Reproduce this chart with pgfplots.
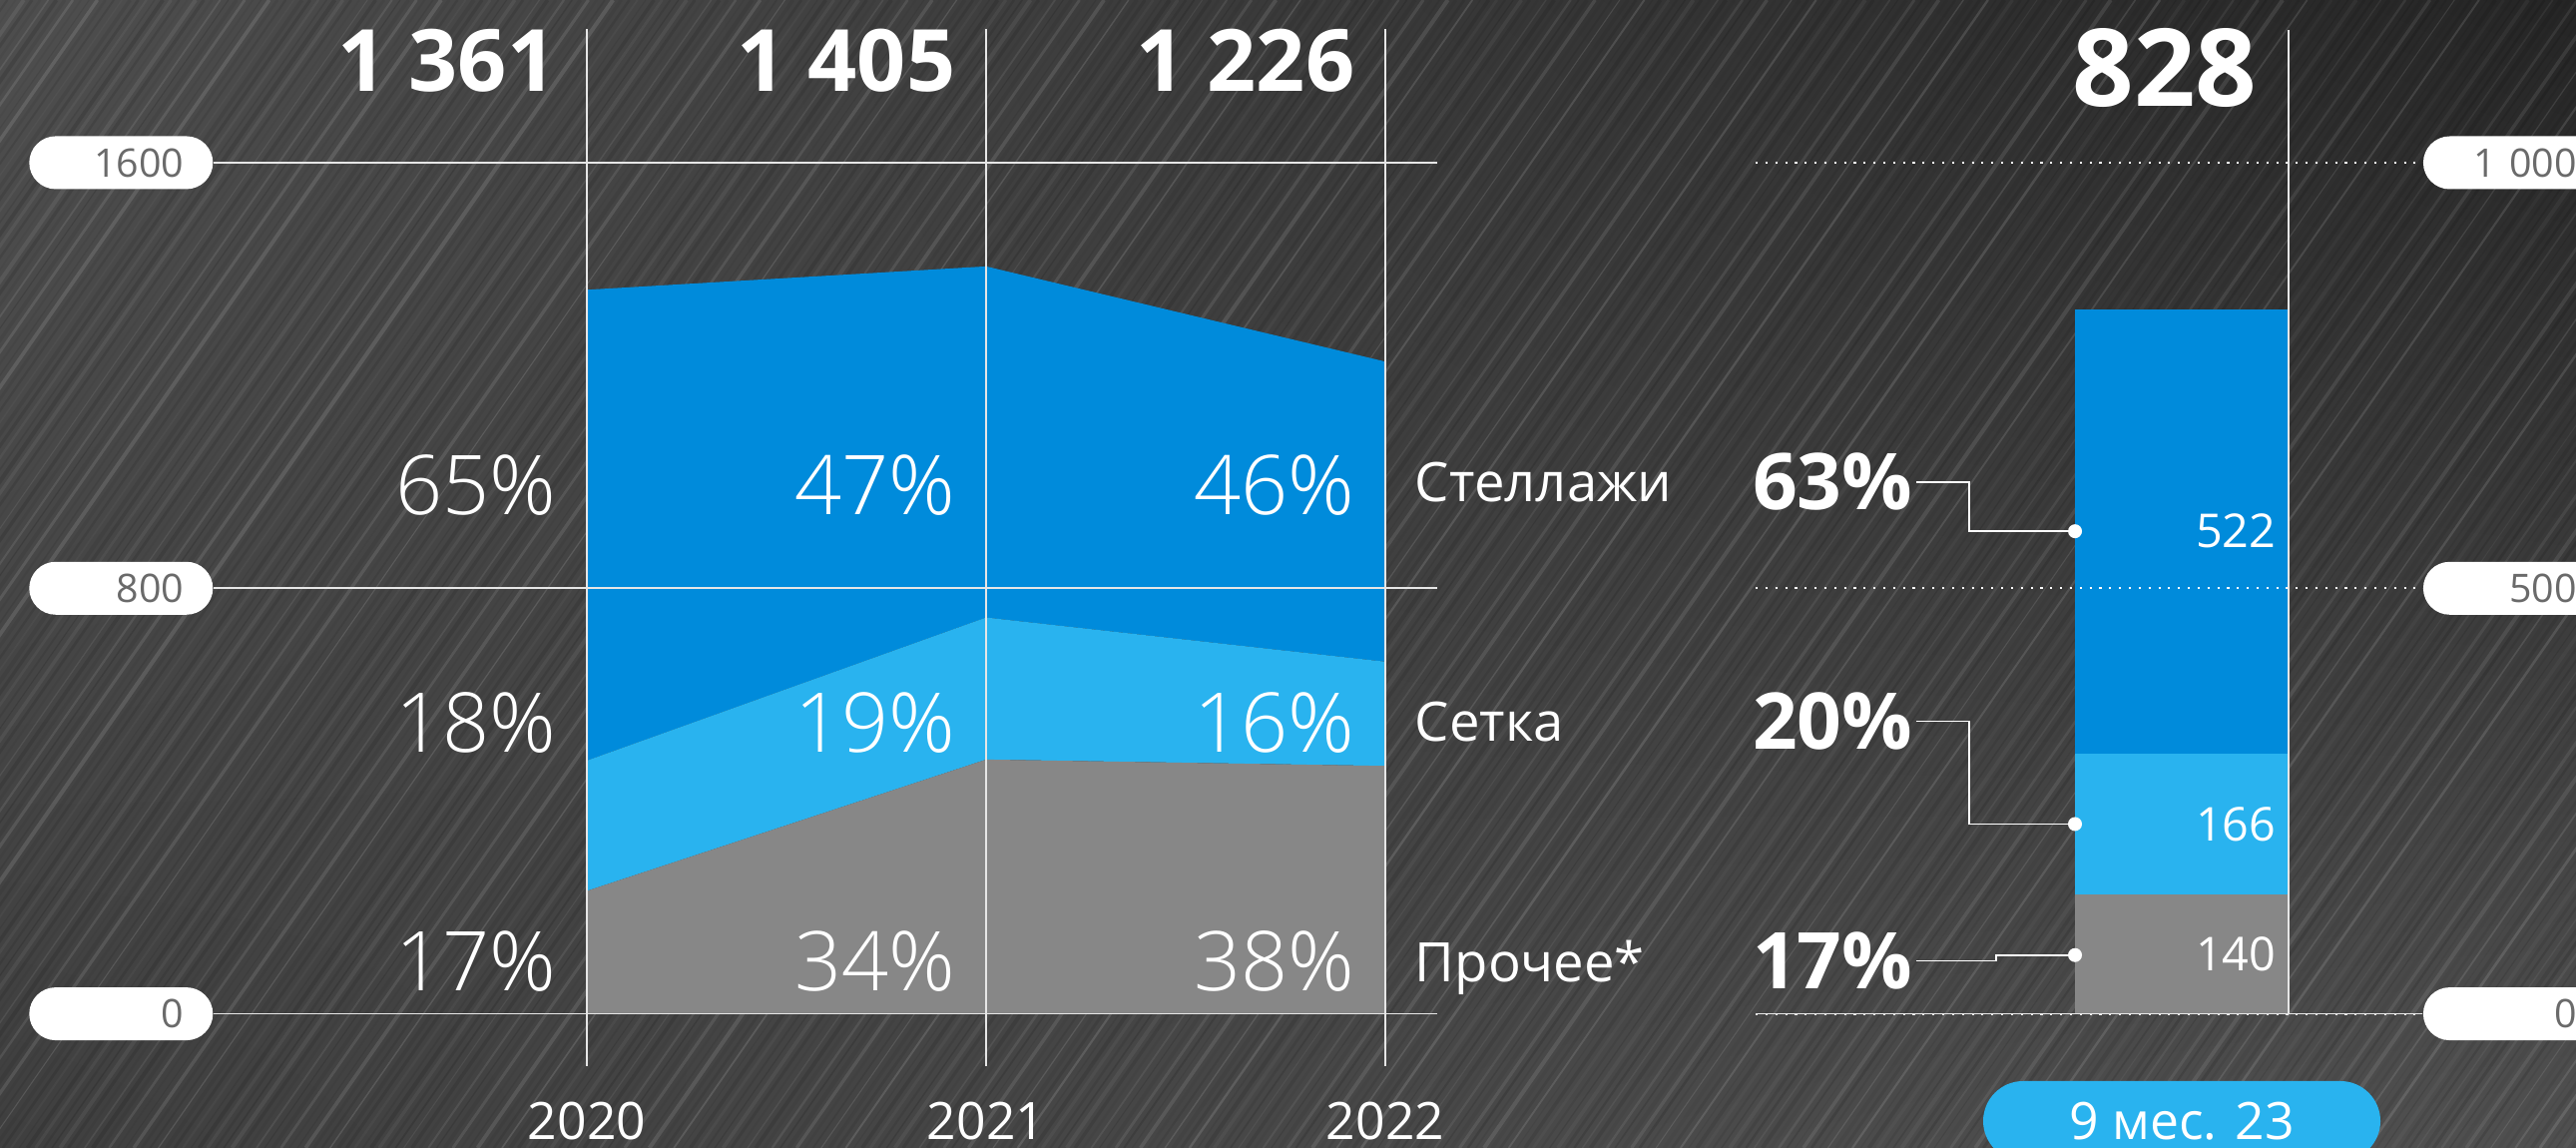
\documentclass[border=0pt]{standalone}
\usepackage{fontspec}
\setmainfont{Open Sans}
\newfontfamily\lightfont{Open Sans Light}
\usepackage{pgfplots}
\pgfplotsset{compat=1.18}
\usetikzlibrary{shadings}
\definecolor{dblue}{HTML}{008BDB}
\definecolor{lblue}{HTML}{29B3EF}
\definecolor{ogrey}{HTML}{878787}
\definecolor{gridc}{HTML}{E6E6E6}
\definecolor{pilltext}{HTML}{6A6A6A}
\definecolor{bgUL}{HTML}{4E4E4E}
\definecolor{bgUR}{HTML}{252525}
\definecolor{bgLL}{HTML}{3F3F3F}
\definecolor{bgLR}{HTML}{505050}
\newcommand{\fs}[1]{\fontsize{#1}{#1}\selectfont}
\tikzset{
  pct/.style={anchor=east, text=white, font=\lightfont\fs{23.5}, xshift=-0.30cm, inner sep=0pt},
  tot/.style={anchor=east, text=white, font=\fs{24.5}\bfseries, xshift=-0.30cm, inner sep=0pt},
  cat/.style={anchor=base west, text=white, font=\fs{15.5}, inner sep=0pt},
  val/.style={anchor=east, text=white, font=\fs{13.3}, xshift=-0.12cm, inner sep=0pt},
  rpct/.style={anchor=east, text=white, font=\fs{22.3}\bfseries, inner sep=0pt},
}
\begin{document}
\begin{tikzpicture}[x=1cm,y=1cm]
\useasboundingbox (0,0) rectangle (25.81,11.50);
\begin{scope}
\clip (0,0) rectangle (25.81,11.50);
\shade[upper left=bgUL, upper right=bgUR, lower left=bgLL, lower right=bgLR] (0,0) rectangle (25.81,11.50);
\foreach \i in {0,...,420}{
  \pgfmathsetmacro{\xx}{-8.5+\i*0.082}
  \pgfmathsetmacro{\op}{0.03+0.10*mod(\i*37,97)/97}
  \pgfmathsetmacro{\lw}{0.3+0.9*mod(\i*13,17)/17}
  \pgfmathtruncatemacro{\cc}{mod(\i*7,3)}
  \ifnum\cc=0
    \draw[white, opacity=\op, line width=\lw pt] (\xx,0) -- ++(8.0,11.5);
  \else
    \draw[black, opacity=\op, line width=\lw pt] (\xx,0) -- ++(8.0,11.5);
  \fi
}
\end{scope}

% ---------------- left panel ----------------
\begin{axis}[
  at={(2.14cm,0.82cm)}, anchor=south west,
  scale only axis, width=12.26cm, height=10.388cm,
  xmin=-0.935, xmax=2.13, ymin=-98.3, ymax=1851,
  axis line style={draw=none}, major tick length=0pt,
  xtick={0,1,2}, xticklabels={2020,2021,2022},
  ytick={0,800,1600}, yticklabels={0,800,1600},
  xmajorgrids, ymajorgrids,
  x grid style={gridc, line width=0.4pt},
  y grid style={gridc, line width=0.5pt},
  axis on top, clip=false,
  stack plots=y,
  xticklabel style={anchor=center, yshift=-0.555cm, font=\fs{14.7}, text=white},
  yticklabel style={anchor=east, fill=white, rounded corners=0.265cm,
    minimum height=0.53cm, text width=1.26cm, align=right,
    inner xsep=0.29cm, inner ysep=0pt, text=pilltext, font=\fs{11.2}},
]
\addplot[fill=ogrey, draw=none] coordinates {(0,231) (1,478) (2,466)} \closedcycle;
\addplot[fill=lblue, draw=none] coordinates {(0,245) (1,267) (2,196)} \closedcycle;
\addplot[fill=dblue, draw=none] coordinates {(0,885) (1,660) (2,564)} \closedcycle;
\coordinate (T0) at (axis cs:0,1792);
\coordinate (T1) at (axis cs:1,1792);
\coordinate (T2) at (axis cs:2,1792);
\coordinate (A0) at (axis cs:0,994);
\coordinate (A1) at (axis cs:1,994);
\coordinate (A2) at (axis cs:2,994);
\coordinate (B0) at (axis cs:0,547);
\coordinate (B1) at (axis cs:1,547);
\coordinate (B2) at (axis cs:2,547);
\coordinate (C0) at (axis cs:0,98);
\coordinate (C1) at (axis cs:1,98);
\coordinate (C2) at (axis cs:2,98);
\coordinate (L1) at (axis cs:2.073,963);
\coordinate (L2) at (axis cs:2.073,513);
\coordinate (L3) at (axis cs:2.073,61);
\end{axis}
\node[tot] at (T0) {1 361};
\node[tot] at (T1) {1 405};
\node[tot] at (T2) {1 226};
\node[pct] at (A0) {65\%};
\node[pct] at (B0) {18\%};
\node[pct] at (C0) {17\%};
\node[pct] at (A1) {47\%};
\node[pct] at (B1) {19\%};
\node[pct] at (C1) {34\%};
\node[pct] at (A2) {46\%};
\node[pct] at (B2) {16\%};
\node[pct] at (C2) {38\%};
\node[cat] at (L1) {Стеллажи};
\node[cat] at (L2) {Сетка};
\node[cat] at (L3) {Прочее*};

% ---------------- right panel ----------------
\begin{axis}[
  at={(17.59cm,1.344cm)}, anchor=south west,
  scale only axis, width=6.682cm, height=9.856cm,
  xmin=-4.27, xmax=2.412, ymin=0, ymax=1156,
  axis line style={draw=none}, major tick length=0pt,
  ybar stacked, bar width=2.14cm,
  xtick={0}, xticklabels={9 мес. 23},
  ytick={0,500,1000}, yticklabels={0,500,1 000},
  ymajorgrids, y grid style={white, line width=0.6pt, dash pattern=on 0.6pt off 2.2pt},
  yticklabel pos=right,
  axis on top, clip=false,
  xticklabel style={anchor=center, yshift=-1.074cm, font=\fs{14.7}, text=white,
    fill=lblue, rounded corners=0.4cm, minimum width=3.98cm, minimum height=0.8cm},
  yticklabel style={anchor=west, fill=white, rounded corners=0.265cm,
    minimum height=0.53cm, text width=1.25cm, align=right,
    inner xsep=0.29cm, inner ysep=0pt, text=pilltext, font=\fs{11.2}},
]
\addplot[fill=ogrey, draw=none] coordinates {(0,140)};
\addplot[fill=lblue, draw=none] coordinates {(0,166)};
\addplot[fill=dblue, draw=none] coordinates {(0,522)};
\coordinate (Z0) at (axis cs:-4.27,0);
\coordinate (Z1) at (axis cs:2.412,0);
\coordinate (V0) at (axis cs:1.07,0);
\coordinate (V1) at (axis cs:1.07,1156);
\coordinate (TT) at (axis cs:1.07,1111);
\coordinate (U1) at (axis cs:1.07,567);
\coordinate (U2) at (axis cs:1.07,223);
\coordinate (U3) at (axis cs:1.07,70);
\coordinate (P1) at (axis cs:-2.69,624.7);
\coordinate (P2) at (axis cs:-2.69,343.7);
\coordinate (P3) at (axis cs:-2.69,62.2);
\coordinate (Q1a) at (axis cs:-2.66,624.7);
\coordinate (Q1b) at (axis cs:-2.13,624.7);
\coordinate (Q1c) at (axis cs:-2.13,567);
\coordinate (Q1d) at (axis cs:-1.07,567);
\coordinate (Q2a) at (axis cs:-2.66,343.7);
\coordinate (Q2b) at (axis cs:-2.13,343.7);
\coordinate (Q2c) at (axis cs:-2.13,223);
\coordinate (Q2d) at (axis cs:-1.07,223);
\coordinate (Q3a) at (axis cs:-2.66,62.2);
\coordinate (Q3b) at (axis cs:-1.862,62.2);
\coordinate (Q3c) at (axis cs:-1.862,69);
\coordinate (Q3d) at (axis cs:-1.07,69);
\end{axis}
\draw[gridc, line width=0.5pt] (Z0) -- (Z1);
\draw[gridc, line width=0.45pt] (V0) -- (V1);
\node[anchor=east, text=white, font=\fs{30.7}\bfseries, xshift=-0.31cm, inner sep=0pt] at (TT) {828};
\node[val] at (U1) {522};
\node[val] at (U2) {166};
\node[val] at (U3) {140};
\node[rpct] at (P1) {63\%};
\node[rpct] at (P2) {20\%};
\node[rpct] at (P3) {17\%};
\draw[white, line width=0.45pt] (Q1a) -- (Q1b) -- (Q1c) -- (Q1d);
\draw[white, line width=0.45pt] (Q2a) -- (Q2b) -- (Q2c) -- (Q2d);
\draw[white, line width=0.45pt] (Q3a) -- (Q3b) -- (Q3c) -- (Q3d);
\fill[white] (Q1d) circle (0.07cm);
\fill[white] (Q2d) circle (0.07cm);
\fill[white] (Q3d) circle (0.07cm);
\end{tikzpicture}
\end{document}
